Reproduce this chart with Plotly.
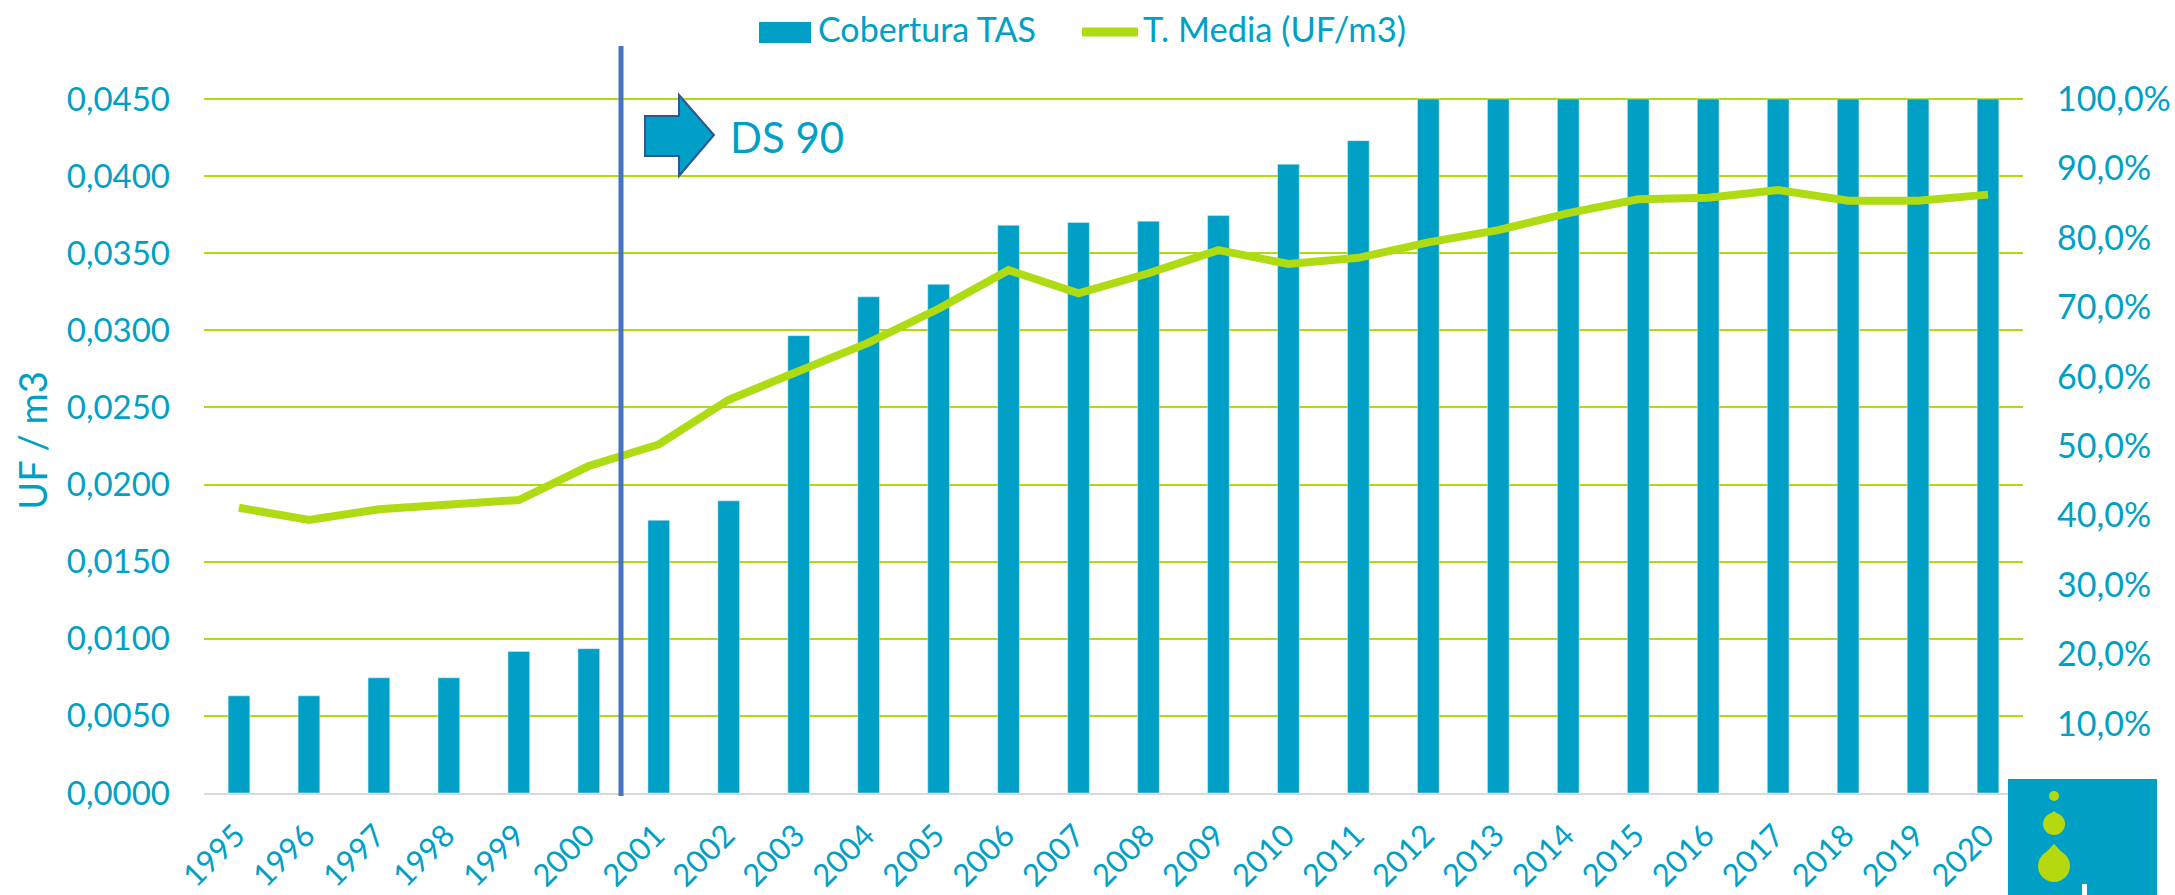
import plotly.graph_objects as go

years = [str(y) for y in [1995,1996,1997,1998,1999,2000,2001,2002,2003,2004,2005,2006,2007,2008,2009,2010,2011,2012,2013,2014,2015,2016,2017,2018,2019,2020]]
cobertura = [14.0,14.0,16.6,16.6,20.4,20.8,39.3,42.1,65.9,71.5,73.3,81.8,82.2,82.4,83.2,90.6,94.0,100,100,100,100,100,100,100,100,100]
t_media = [.0185,.0177,.0184,.0187,.0190,.0212,.0226,.0255,.0274,.0292,.0314,.0339,.0324,.0337,.0352,.0343,.0347,.0357,.0365,.0376,.0385,.0386,.0391,.0384,.0384,.0388]
left_ticks = [.005*i for i in range(10)]
left_labels = ["0,0000","0,0050","0,0100","0,0150","0,0200","0,0250","0,0300","0,0350","0,0400","0,0450"]
right_ticks = [10*i for i in range(11)]
right_labels = ["0,0%","10,0%","20,0%","30,0%","40,0%","50,0%","60,0%","70,0%","80,0%","90,0%","100,0%"]

W, H = 2175, 895
L, R, T, B = 204, 2023, 88, 793
EXT = 705 / 694
BLUE = "#00a0c6"; GREEN = "#aedb12"; FONT = "Lato"
def px(x): return (x - L) / (R - L)
def py(y): return (B - y) / (B - T)

fig = go.Figure()
fig.add_trace(go.Bar(x=years, y=cobertura, name="Cobertura TAS", marker_color=BLUE, width=0.31, yaxis="y"))
fig.add_trace(go.Scatter(x=years, y=t_media, name="T. Media (UF/m3)", mode="lines", yaxis="y2",
                         line=dict(color=GREEN, width=8)))

def rect(x0, y0, x1, y1, color):
    return dict(type="rect", xref="paper", yref="paper", x0=px(x0), x1=px(x1), y0=py(y0), y1=py(y1),
                fillcolor=color, line_width=0, layer="above")
def circle(cx, cy, r, color):
    return dict(type="circle", xref="paper", yref="paper", x0=px(cx-r), x1=px(cx+r), y0=py(cy-r), y1=py(cy+r),
                fillcolor=color, line_width=0, layer="above")

arrow = [(645,116),(679,116),(679,95),(714,135),(679,176),(679,156),(645,156)]
arrow_path = "M " + " L ".join(f"{px(a):.5f},{py(b):.5f}" for a, b in arrow) + " Z"
drop = lambda cx, top, cy, r: (f"M {px(cx):.5f},{py(top):.5f} L {px(cx+r*0.75):.5f},{py(cy-r*0.6):.5f} "
                               f"L {px(cx-r*0.75):.5f},{py(cy-r*0.6):.5f} Z")
shapes = [
    dict(type="line", xref="paper", yref="paper", x0=px(621), x1=px(621), y0=py(46), y1=py(796),
         line=dict(color="#4472c4", width=5), layer="above"),
    dict(type="path", xref="paper", yref="paper", path=arrow_path, fillcolor="#009fc7",
         line=dict(color="#2f5597", width=2), layer="above"),
    rect(2008, 779, 2157, 895, BLUE),
    circle(2054, 796, 5, "#b5d80f"),
    circle(2054, 824, 11, "#b5d80f"),
    dict(type="path", xref="paper", yref="paper", path=drop(2054, 811, 824, 11), fillcolor="#b5d80f", line_width=0, layer="above"),
    circle(2054, 866, 16, "#b5d80f"),
    dict(type="path", xref="paper", yref="paper", path=drop(2054, 844, 866, 16), fillcolor="#b5d80f", line_width=0, layer="above"),
    rect(2082, 884, 2087, 895, "#ffffff"),
    rect(759, 22, 811, 43, BLUE),
    dict(type="line", xref="paper", yref="paper", x0=px(1082), x1=px(1138), y0=py(32), y1=py(32),
         line=dict(color=GREEN, width=9), layer="above"),
]
def note(x, y, text, size, anchor="left"):
    return dict(xref="paper", yref="paper", x=px(x), y=py(y), text=text, showarrow=False, xanchor=anchor,
                yanchor="middle", font=dict(family=FONT, size=size, color=BLUE))
annotations = [
    note(816, 29, "Cobertura TAS", 34),
    note(1141, 29, "T. Media (UF/m3)", 34.5),
    note(728, 137, "DS 90", 42),
]

fig.update_layout(
    width=W, height=H, autosize=False, showlegend=False, plot_bgcolor="white", paper_bgcolor="white",
    margin=dict(l=L, r=W-R, t=T, b=H-B, autoexpand=False), font=dict(family=FONT, size=31, color=BLUE),
    bargap=0.69, shapes=shapes, annotations=annotations,
    xaxis=dict(type="category", tickangle=-45, tickfont=dict(size=31, color=BLUE), showgrid=False, automargin=False,
               showline=True, linecolor="#d9d9d9", linewidth=2, ticks="outside", ticklen=10,
               tickcolor="rgba(0,0,0,0)", ticklabelshift=-3),
    yaxis=dict(range=[0, 100 * EXT], side="right", tickvals=right_ticks, ticktext=right_labels, showgrid=False,
               tickfont=dict(size=34, color=BLUE), ticks="", zeroline=False, showline=False, ticklabelstandoff=33),
    yaxis2=dict(range=[0, .045 * EXT], side="left", overlaying="y", tickvals=left_ticks, ticktext=left_labels,
                showgrid=True, gridcolor=GREEN, gridwidth=2, zeroline=False, ticks="",
                tickfont=dict(size=33, color=BLUE), showline=False, ticklabelstandoff=33,
                title=dict(text="UF / m3", font=dict(size=38, color=BLUE), standoff=7)),
)
fig.write_html("out.html", post_script="document.body.style.margin='0';", config=dict(displayModeBar=False))
